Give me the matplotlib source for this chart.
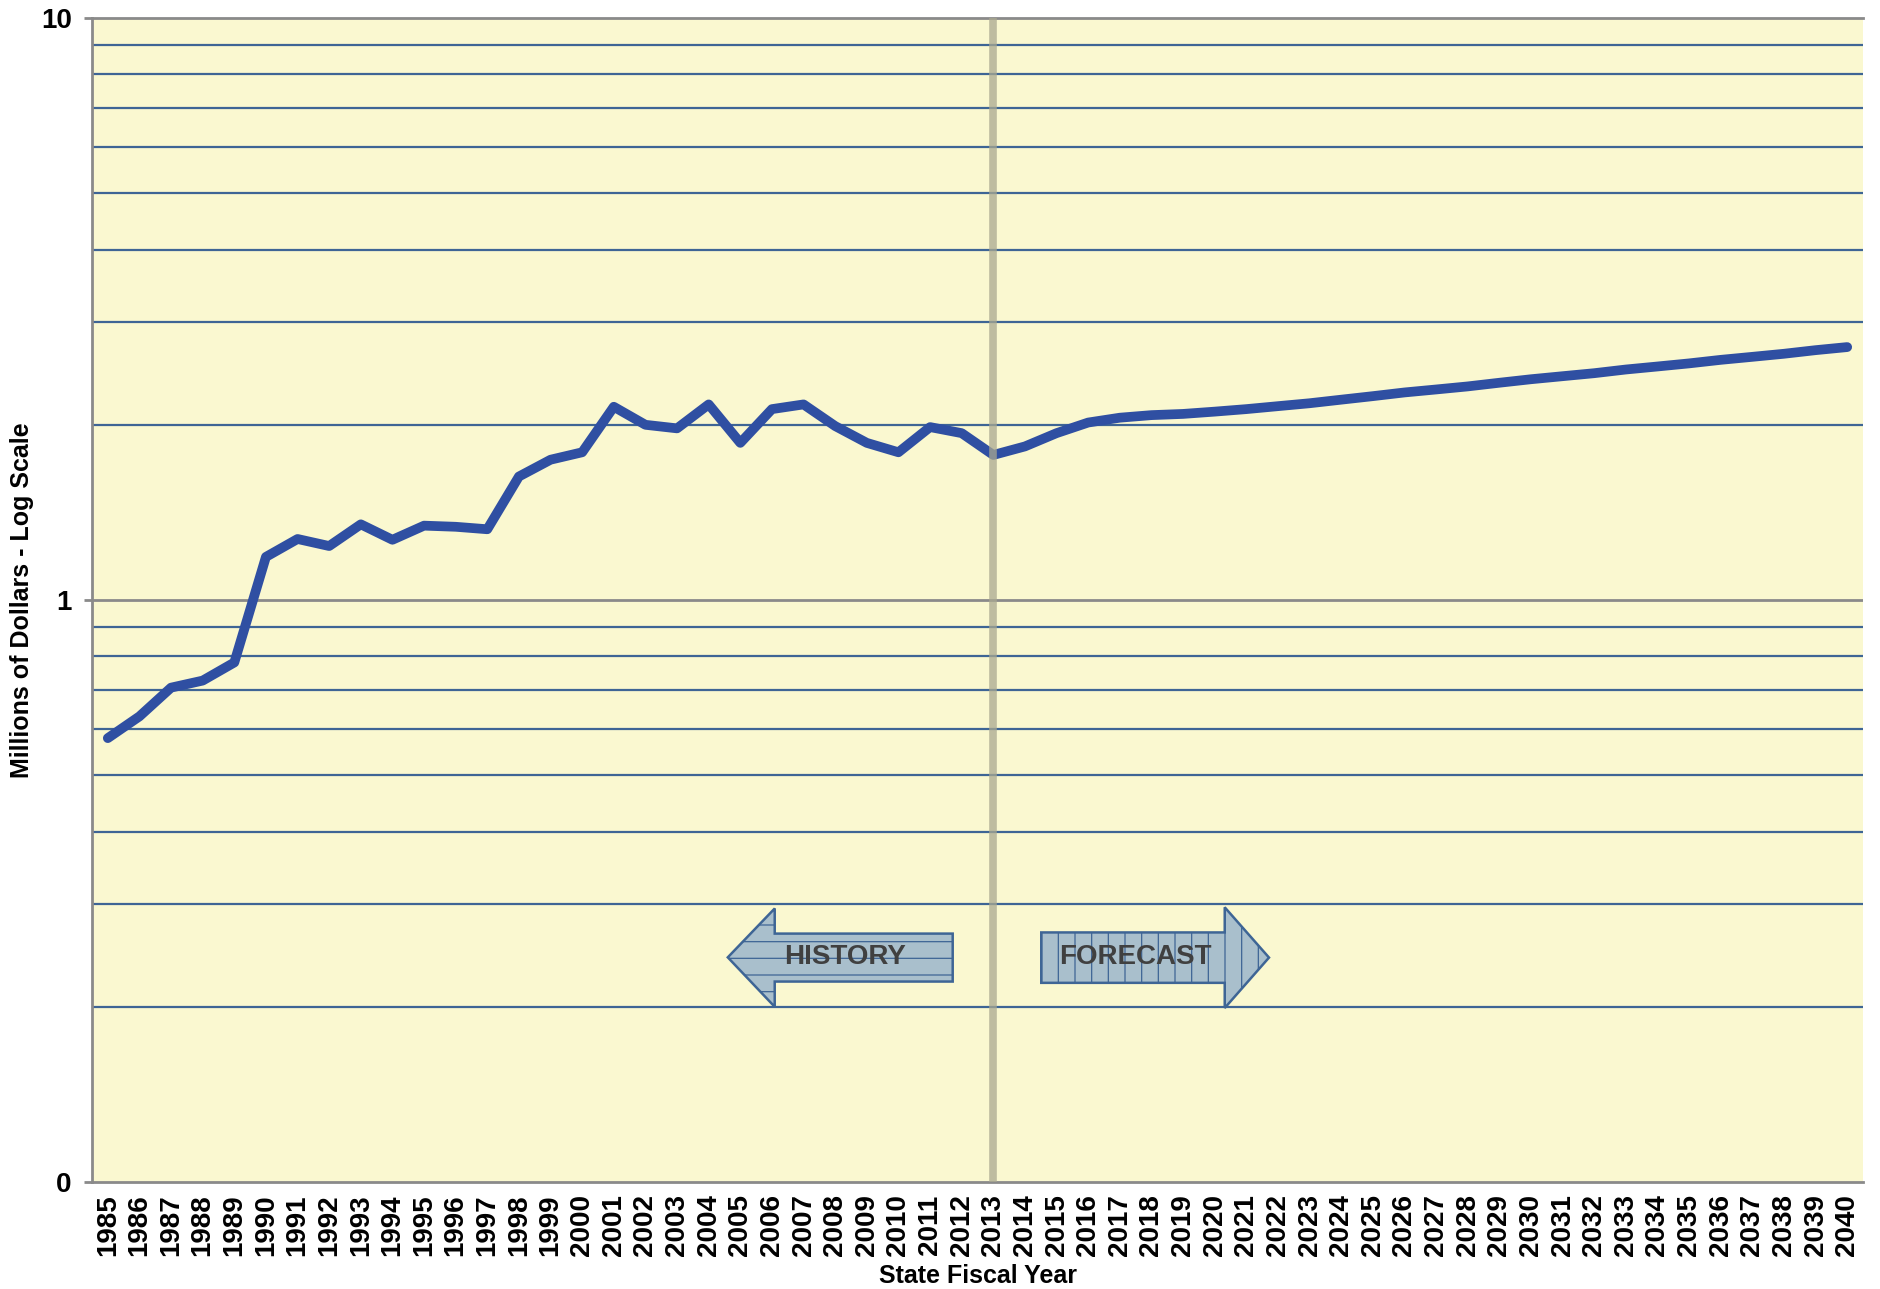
import matplotlib
matplotlib.use("Agg")
import matplotlib.pyplot as plt
from matplotlib.patches import Polygon
from matplotlib.ticker import FixedLocator, FixedFormatter

plt.rcParams['font.family'] = ['Liberation Sans', 'DejaVu Sans']
plt.rcParams['hatch.color'] = '#7d9dbd'
plt.rcParams['hatch.linewidth'] = 0.9

years = list(range(1985, 2041))
values = [0.579, 0.631, 0.707, 0.727, 0.781, 1.186, 1.273, 1.238, 1.349, 1.269,
          1.342, 1.336, 1.323, 1.63, 1.742, 1.794, 2.148, 2.0, 1.972, 2.168,
          1.862, 2.128, 2.168, 1.99, 1.862, 1.794, 1.982, 1.935, 1.775, 1.836,
          1.935, 2.018, 2.057, 2.078, 2.088, 2.107, 2.128, 2.153, 2.178, 2.209,
          2.24, 2.273, 2.300, 2.328, 2.362, 2.395, 2.424, 2.453, 2.489, 2.519,
          2.55, 2.586, 2.617, 2.649, 2.687, 2.72]
divider_year = 2013
ytick_vals = [0.1, 1, 10]
ytick_labels = ["0", "1", "10"]
grid_vals = [v * d for d in (0.1, 1) for v in range(2, 10)]

W, H = 1881, 1289
fig = plt.figure(figsize=(W / 100, H / 100), dpi=100)
ax = fig.add_axes([92 / W, 1 - 1182 / H, (1863 - 92) / W, (1182 - 18) / H])
ax.set_facecolor('#faf8d0')
ax.set_yscale('log')
ax.set_ylim(0.1, 10)
ax.set_xlim(years[0] - 0.5, years[-1] + 0.5)

for g in grid_vals:
    ax.axhline(g, color='#3e6595', lw=1.6, zorder=1)
ax.axhline(1, color='#8a8a8a', lw=2, zorder=1)

ax.plot(years, values, color='#2f4fa2', lw=7, solid_joinstyle='round',
        solid_capstyle='round', zorder=3)
ax.axvline(divider_year, color='#aaa890', lw=5.5, alpha=0.75, zorder=4)

ax.yaxis.set_major_locator(FixedLocator(ytick_vals))
ax.yaxis.set_major_formatter(FixedFormatter(ytick_labels))
ax.yaxis.set_minor_locator(FixedLocator([]))
ax.set_xticks(years)
ax.set_xticklabels([str(y) for y in years], rotation=90, fontweight='bold', fontsize=20)
ax.tick_params(axis='x', length=0, pad=9)
ax.tick_params(axis='y', length=6, width=2, color='#8a8a8a', labelsize=20, pad=8.5)
for lbl in ax.get_yticklabels():
    lbl.set_fontweight('bold')

for s in ['left', 'bottom', 'top']:
    ax.spines[s].set_color('#8a8a8a')
    ax.spines[s].set_linewidth(2)
ax.spines['right'].set_visible(False)

fig.text(22 / W, 1 - 600 / H, 'Millions of Dollars - Log Scale', rotation=90,
         ha='center', va='center', fontweight='bold', fontsize=18)
fig.text(978 / W, 1 - 1276 / H, 'State Fiscal Year', ha='center', va='center',
         fontweight='bold', fontsize=18)

# arrows (axes fraction)
hist = [(0.359, 0.193), (0.3855, 0.235), (0.3855, 0.2134), (0.486, 0.2134),
        (0.486, 0.1722), (0.3855, 0.1722), (0.3855, 0.1505)]
fore = [(0.536, 0.2144), (0.6396, 0.2144), (0.6396, 0.236), (0.6646, 0.1928),
        (0.6396, 0.1495), (0.6396, 0.1711), (0.536, 0.1711)]
for pts, hatch in ((hist, '-'), (fore, '|')):
    p = Polygon(pts, closed=True, transform=ax.transAxes, facecolor='#a9bfcc',
                edgecolor='#3e6595', lw=1.8, hatch=hatch, zorder=5)
    ax.add_patch(p)
ax.text(0.4255, 0.193, 'HISTORY', transform=ax.transAxes, ha='center', va='center',
        fontsize=20, fontweight='bold', color='#404040', zorder=6)
ax.text(0.589, 0.193, 'FORECAST', transform=ax.transAxes, ha='center', va='center',
        fontsize=20, fontweight='bold', color='#404040', zorder=6)

fig.savefig('out.png', dpi=100, facecolor='white')
